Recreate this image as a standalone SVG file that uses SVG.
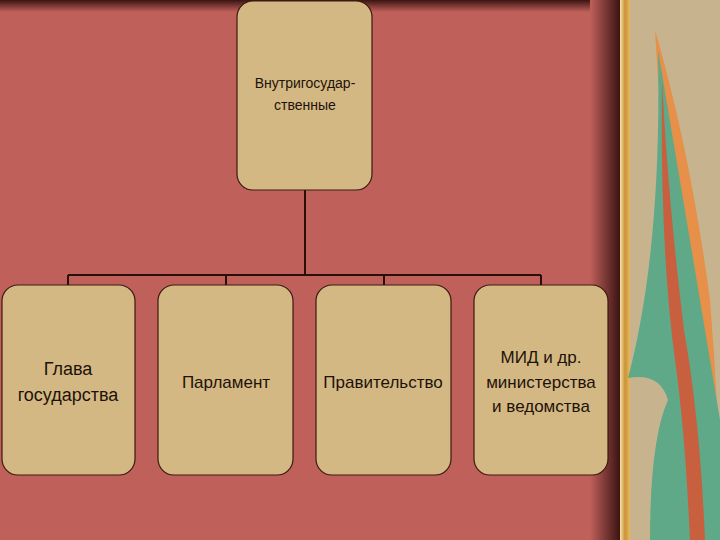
<svg xmlns="http://www.w3.org/2000/svg" width="720" height="540" viewBox="0 0 720 540">
<defs>
<style>
.box{fill:#D4B884;stroke:#3A1A10;stroke-width:1.2}
.t{font-family:"Liberation Sans",Arial,sans-serif;fill:#1E1208;text-anchor:middle}
.c{stroke:#2A0E08;stroke-width:2;fill:none}
</style>
<linearGradient id="sh" x1="0" x2="1"><stop offset="0" stop-color="#C0605A"/><stop offset="1" stop-color="#3A1412"/></linearGradient>
<linearGradient id="tp" x1="0" y1="0" x2="0" y2="1"><stop offset="0" stop-color="#3A1412"/><stop offset="1" stop-color="#C0605A"/></linearGradient>
<linearGradient id="gold" x1="0" x2="1"><stop offset="0" stop-color="#F6E3A8"/><stop offset="0.5" stop-color="#C99235"/><stop offset="1" stop-color="#E8B860"/></linearGradient>
</defs>
<rect width="720" height="540" fill="#C0605A"/>
<rect width="620" height="12" fill="url(#tp)"/>
<rect x="590" y="0" width="30" height="540" fill="url(#sh)"/>
<rect x="620" y="0" width="100" height="540" fill="#C7B48F"/>
<rect x="620" y="0" width="10" height="540" fill="url(#gold)"/>
<path d="M655 30 Q690 150 710 300 Q720 420 720 540 L700 540 Q690 420 680 330 Q665 200 655 30Z" fill="#E6904A"/>
<path d="M658 50 Q662 250 628 378 Q660 372 668 400 Q650 440 650 540 L720 540 L720 420 Q700 300 658 50Z" fill="#5FA888"/>
<path d="M662 80 Q668 200 684 330 Q700 420 705 540 L690 540 Q685 430 675 360 Q660 250 662 80Z" fill="#C86040"/>
<g class="c">
<path d="M305 190 V275 M68 275 H541 M68 275 V285 M226 275 V285 M384 275 V285 M541 275 V285"/>
</g>
<g id="top"><rect class="box" x="237" y="1" width="135" height="189" rx="16"/>
<text class="t" font-size="14" x="305" y="88">Внутригосудар-</text><text class="t" font-size="14" x="305" y="110">ственные</text></g>
<g id="n1"><rect class="box" x="2" y="285" width="133" height="190" rx="16"/>
<text class="t" font-size="18" x="68" y="375">Глава</text><text class="t" font-size="18" x="68" y="401">государства</text></g>
<g id="n2"><rect class="box" x="158" y="285" width="135" height="190" rx="16"/>
<text class="t" font-size="17" x="226" y="388">Парламент</text></g>
<g id="n3"><rect class="box" x="316" y="285" width="135" height="190" rx="16"/>
<text class="t" font-size="17" x="383" y="388">Правительство</text></g>
<g id="n4"><rect class="box" x="474" y="285" width="134" height="190" rx="16"/>
<text class="t" font-size="17" x="541" y="363">МИД и др.</text><text class="t" font-size="17" x="541" y="388">министерства</text><text class="t" font-size="17" x="541" y="412">и ведомства</text></g>
</svg>
